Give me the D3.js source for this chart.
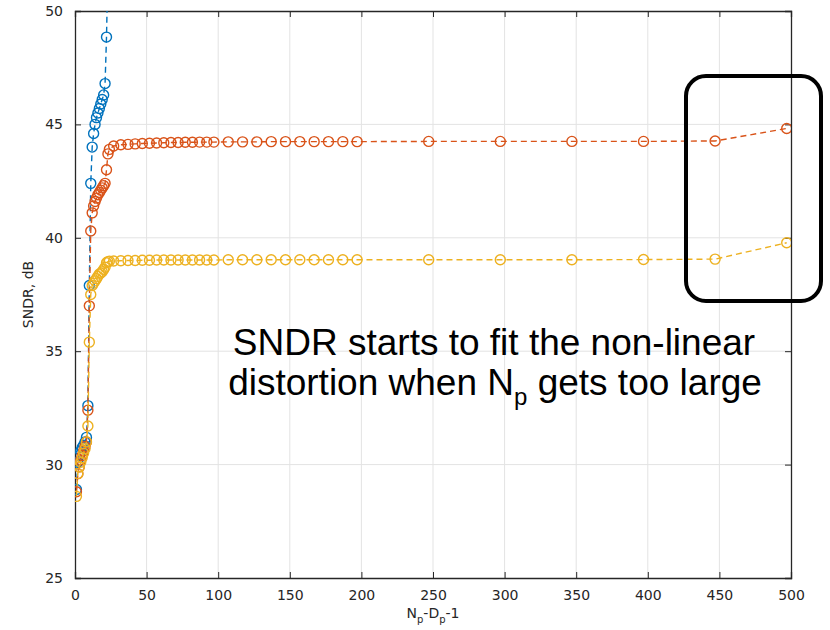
<!DOCTYPE html>
<html>
<head>
<meta charset="utf-8">
<script src="https://cdn.jsdelivr.net/npm/d3@7"></script>
<style>
  body { margin: 0; background: #fff; }
  svg { display: block; }
</style>
</head>
<body>
<div id="chart"></div>
<script>
// x values (N_p - D_p - 1) for each point
var xEarly = [1,2,3,4,5,6,7,8,9,10,11,12,13,14,15,16,17,18,19,20,21,22,23,24];
var xMid = [27,32,37,42,47,52,57,62,67,72,77,82,87,92,97];
var xTail = [107,117,127,137,147,157,167,177,187,197,247,297,347,397,447,497];

// SNDR values, dB
var blueVals = [28.9,30.1,30.4,30.6,30.75,30.85,31.0,31.2,32.6,37.9,42.4,44.0,44.6,45.0,45.3,45.5,45.7,45.9,46.1,46.3,46.8,48.85,52];
var orangeVals = [28.8,29.6,29.9,30.2,30.4,30.6,30.8,31.0,32.4,37.0,40.3,41.1,41.4,41.6,41.75,41.9,42.0,42.1,42.2,42.3,42.4,43.0,43.7,43.9,
  44.05,44.1,44.12,44.14,44.16,44.17,44.18,44.19,44.2,44.2,44.21,44.21,44.22,44.22,44.22,
  44.23,44.23,44.23,44.24,44.24,44.24,44.24,44.24,44.24,44.24,44.25,44.25,44.25,44.25,44.27,44.82];
var yellowVals = [28.6,29.6,29.9,30.1,30.3,30.5,30.7,31.0,31.7,35.4,37.5,37.9,38.0,38.1,38.2,38.3,38.4,38.45,38.5,38.6,38.7,38.9,38.95,38.97,
  38.98,38.99,39.0,39.0,39.01,39.01,39.02,39.02,39.02,39.02,39.02,39.02,39.02,39.02,39.02,
  39.03,39.03,39.03,39.03,39.03,39.03,39.03,39.03,39.03,39.03,39.03,39.03,39.03,39.04,39.06,39.78];

var xTicks = [0,50,100,150,200,250,300,350,400,450,500];
var yTicks = [25,30,35,40,45,50];

var seriesColors = ["#0072BD", "#D95319", "#EDB120"];

var annotationLines = ["SNDR starts to fit the non-linear", "distortion when N", "p", " gets too large"];

function generateChart() {

  var margin = {top: 11, right: 39, bottom: 52, left: 75};
  var fullWidth = 830, fullHeight = 630;
  var width = fullWidth - margin.left - margin.right,
      height = fullHeight - margin.top - margin.bottom;

  var svg = d3.select("#chart")
              .append("svg")
              .attr("width", fullWidth)
              .attr("height", fullHeight);

  var g = svg.append("g")
             .attr("transform", "translate(" + margin.left + "," + margin.top + ")");

  var xScale = d3.scaleLinear().domain([0, 500]).range([0, width]);
  var yScale = d3.scaleLinear().domain([25, 50]).range([height, 0]);

  var allX = xEarly.concat(xMid, xTail);
  var series = [blueVals, orangeVals, yellowVals].map(function(vals, i) {
    return {
      color: seriesColors[i],
      points: vals.map(function(v, j) { return {x: allX[j], y: v}; })
    };
  });

  // grid lines
  g.append("g").selectAll("line")
   .data(xTicks.slice(1, -1))
   .enter().append("line")
   .attr("x1", function(d) { return xScale(d); })
   .attr("x2", function(d) { return xScale(d); })
   .attr("y1", 0).attr("y2", height)
   .style("stroke", "#e3e3e3").style("stroke-width", 1);

  g.append("g").selectAll("line")
   .data(yTicks.slice(1, -1))
   .enter().append("line")
   .attr("x1", 0).attr("x2", width)
   .attr("y1", function(d) { return yScale(d); })
   .attr("y2", function(d) { return yScale(d); })
   .style("stroke", "#e3e3e3").style("stroke-width", 1);

  // axes (ticks inward, mirrored on top/right)
  var axisColor = "#262626";
  var tickFont = "DejaVu Sans, sans-serif";

  var xAxis = d3.axisBottom(xScale).tickValues(xTicks).tickSize(-6).tickPadding(12);
  var yAxis = d3.axisLeft(yScale).tickValues(yTicks).tickSize(-6).tickPadding(12);

  var xAxisGroup = g.append("g")
                    .attr("transform", "translate(0," + height + ")")
                    .call(xAxis);
  var yAxisGroup = g.append("g").call(yAxis);

  g.append("g").call(d3.axisTop(xScale).tickValues(xTicks).tickSize(-6).tickFormat(""));
  g.append("g").attr("transform", "translate(" + width + ",0)")
   .call(d3.axisRight(yScale).tickValues(yTicks).tickSize(-6).tickFormat(""));

  g.selectAll(".domain").style("stroke", axisColor).style("stroke-width", 1.3);
  g.selectAll(".tick line").style("stroke", axisColor).style("stroke-width", 1);
  g.selectAll(".tick text")
   .style("font-family", tickFont)
   .style("font-size", "14px")
   .style("fill", axisColor);

  // clip lines to the axes box
  g.append("clipPath").attr("id", "plot-clip")
   .append("rect").attr("width", width).attr("height", height);

  var line = d3.line()
               .x(function(d) { return xScale(d.x); })
               .y(function(d) { return yScale(d.y); });

  var plot = g.append("g").attr("clip-path", "url(#plot-clip)");

  series.forEach(function(s) {
    var sg = plot.append("g");
    sg.append("path")
      .datum(s.points)
      .attr("d", line)
      .style("fill", "none")
      .style("stroke", s.color)
      .style("stroke-width", 1.4)
      .style("stroke-dasharray", "6,4");

    sg.selectAll("circle")
      .data(s.points)
      .enter().append("circle")
      .attr("cx", function(d) { return xScale(d.x); })
      .attr("cy", function(d) { return yScale(d.y); })
      .attr("r", 5)
      .style("fill", "none")
      .style("stroke", s.color)
      .style("stroke-width", 1.4);
  });

  // axis labels
  var xLabel = g.append("text")
                .attr("x", width / 2)
                .attr("y", height + 40)
                .attr("text-anchor", "middle")
                .style("font-family", tickFont)
                .style("font-size", "14px")
                .style("fill", axisColor);
  xLabel.append("tspan").text("N");
  xLabel.append("tspan").attr("dy", 5).style("font-size", "10px").text("p");
  xLabel.append("tspan").attr("dy", -5).text("-D");
  xLabel.append("tspan").attr("dy", 5).style("font-size", "10px").text("p");
  xLabel.append("tspan").attr("dy", -5).text("-1");

  g.append("text")
   .attr("transform", "translate(-42," + (height / 2) + ") rotate(-90)")
   .attr("text-anchor", "middle")
   .style("font-family", tickFont)
   .style("font-size", "14px")
   .style("fill", axisColor)
   .text("SNDR, dB");

  // annotation text
  var noteFont = "Liberation Sans, Arial, sans-serif";
  svg.append("text")
     .attr("x", 494).attr("y", 355)
     .attr("text-anchor", "middle")
     .style("font-family", noteFont)
     .style("font-size", "37px")
     .style("fill", "#000")
     .text(annotationLines[0]);

  var note2 = svg.append("text")
                 .attr("x", 495).attr("y", 395)
                 .attr("text-anchor", "middle")
                 .style("font-family", noteFont)
                 .style("font-size", "37px")
                 .style("fill", "#000");
  note2.append("tspan").text(annotationLines[1]);
  note2.append("tspan").attr("dy", 10).style("font-size", "24px").text(annotationLines[2]);
  note2.append("tspan").attr("dy", -10).text(annotationLines[3]);

  // rounded highlight box
  svg.append("rect")
     .attr("x", 686).attr("y", 76)
     .attr("width", 135).attr("height", 225)
     .attr("rx", 20).attr("ry", 20)
     .style("fill", "none")
     .style("stroke", "#000")
     .style("stroke-width", 4);
}

generateChart();
</script>
</body>
</html>
